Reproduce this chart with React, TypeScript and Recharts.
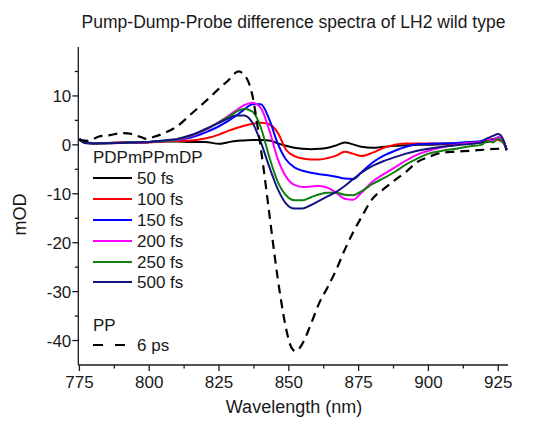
import React from "react";
import { LineChart, Line, XAxis, YAxis } from "recharts";

// wavelength grid (nm) for the pump-dump-probe spectra
const pdpWavelengths = [
  775, 777, 780, 785, 790, 795, 800, 805, 810, 815, 820, 825, 828, 831, 834, 837, 840, 843, 846, 849,
  852, 855, 858, 861, 864, 867, 870, 873, 876, 880, 884, 888, 892, 896, 900, 905, 910, 915, 919, 921,
  923, 925, 927, 928,
];

const fs50 = [
  1.2, 0.5, 0.4, 0.4, 0.5, 0.5, 0.6, 0.7, 0.7, 0.6, 0.6, 0.2, 0.5, 0.8, 0.9, 1.0, 1.0, 0.9, 0.3, -0.2,
  -0.6, -0.8, -0.9, -0.8, -0.6, -0.1, 0.5, 0.1, -0.4, -0.6, -0.4, -0.2, -0.1, 0.0, 0.0, 0.1, 0.2, 0.3, 0.5, 0.6,
  1.0, 1.5, 0.5, -1.0,
];
const fs100 = [
  1.0, 0.4, 0.3, 0.4, 0.5, 0.4, 0.5, 0.7, 0.8, 0.9, 1.3, 2.1, 2.8, 3.4, 3.9, 4.3, 4.5, 4.2, 2.5, -1.0,
  -2.3, -2.8, -3.0, -3.0, -2.7, -2.2, -1.4, -1.8, -2.3, -1.6, -0.6, 0.0, 0.3, 0.3, 0.3, 0.3, 0.3, 0.5, 0.6, 0.8,
  1.2, 1.0, 0.3, -1.0,
];
const fs150 = [
  1.3, 0.5, 0.3, 0.4, 0.4, 0.5, 0.6, 0.8, 1.0, 1.5, 2.5, 3.8, 4.8, 5.9, 7.2, 8.3, 8.3, 5.2, 0.3, -3.0,
  -4.6, -5.3, -5.7, -6.0, -6.2, -6.5, -6.9, -7.0, -5.6, -3.6, -2.2, -1.2, -0.4, 0.1, 0.2, 0.3, 0.4, 0.6, 0.8, 1.2,
  1.0, 1.5, 0.5, -1.0,
];
const fs200 = [
  1.2, 0.4, 0.3, 0.3, 0.4, 0.4, 0.6, 0.8, 1.0, 1.8, 3.0, 4.7, 5.8, 7.0, 8.1, 8.6, 7.5, 3.0, -2.8, -6.5,
  -8.2, -8.6, -8.5, -8.4, -8.8, -9.8, -11.0, -11.2, -9.8, -7.5, -6.0, -4.6, -3.2, -2.0, -1.2, -0.5, 0.0, 0.4, 0.6, 1.2,
  0.8, 1.5, 0.5, -1.0,
];
const fs250 = [
  1.0, 0.4, 0.3, 0.3, 0.4, 0.5, 0.6, 0.8, 1.1, 1.9, 3.1, 4.6, 5.6, 6.7, 7.4, 6.8, 3.5, -2.5, -7.5, -10.3,
  -11.3, -11.3, -10.7, -10.1, -9.8, -9.8, -10.2, -10.3, -9.5, -8.0, -6.8, -5.5, -4.0, -2.8, -1.8, -1.2, -0.8, -0.3, 0.0, 0.8,
  0.5, 1.2, 0.3, -1.0,
];
const fs500 = [
  1.2, 0.4, 0.3, 0.4, 0.4, 0.5, 0.6, 0.9, 1.2, 2.0, 3.2, 4.5, 5.3, 6.0, 6.0, 4.5, 0.5, -4.5, -9.0, -12.0,
  -13.0, -13.0, -12.3, -11.4, -10.5, -9.6, -8.4, -7.0, -5.7, -4.3, -3.3, -2.5, -1.8, -1.2, -0.8, -0.4, -0.1, 0.2, 0.5, 1.3,
  1.8, 2.2, 0.8, -1.0,
];

// pump-probe reference, 6 ps
const ppWavelengths = [
  775, 778, 782, 786, 790, 794, 797, 799, 802, 805, 810, 815, 820, 825, 828, 832, 835, 837, 839, 841,
  843, 845, 847, 849, 851, 852.5, 855, 858, 861, 864, 867, 870, 873, 876, 880, 884, 888, 892, 896, 900,
  905, 910, 915, 920, 925, 928,
];
const ps6 = [
  1.0, 0.8, 1.7, 2.0, 2.4, 2.2, 1.6, 1.2, 1.7, 2.3, 3.8, 6.3, 8.8, 11.5, 13.0, 15.0, 13.5, 10.0, 3.0, -5.0,
  -14.0, -23.0, -31.0, -37.5, -41.5, -42.2, -40.5, -36.5, -32.2, -29.0, -25.5, -21.5, -17.9, -14.8, -11.0, -9.0, -7.2, -5.5, -3.5, -2.5,
  -1.6, -1.4, -1.2, -1.0, -0.8, -1.0,
];

const pdpSeries = [
  { name: "50 fs", color: "#000000", values: fs50 },
  { name: "100 fs", color: "#ff0000", values: fs100 },
  { name: "150 fs", color: "#0000ff", values: fs150 },
  { name: "200 fs", color: "#ff00ff", values: fs200 },
  { name: "250 fs", color: "#118011", values: fs250 },
  { name: "500 fs", color: "#141480", values: fs500 },
];

const xTicks = [775, 787.5, 800, 812.5, 825, 837.5, 850, 862.5, 875, 887.5, 900, 912.5, 925];
const yTicks = [-40, -35, -30, -25, -20, -15, -10, -5, 0, 5, 10, 15];

const FONT = "'Liberation Sans', Arial, sans-serif";
const INK = "#1a1a1a";

const pdpData = pdpSeries.map((s) => pdpWavelengths.map((w, i) => ({ wl: w, v: s.values[i] })));
const ppData = ppWavelengths.map((w, i) => ({ wl: w, v: ps6[i] }));

function XTick(props: any) {
  const { x, y, payload } = props;
  const major = payload.value % 25 === 0;
  return (
    <g>
      <line x1={x} y1={y} x2={x} y2={y + (major ? 6 : 3.5)} stroke={INK} strokeWidth={1.3} />
      {major && (
        <text x={x} y={y + 23} textAnchor="middle" fontSize={17} fontFamily={FONT} fill={INK}>
          {payload.value}
        </text>
      )}
    </g>
  );
}

function YTick(props: any) {
  const { x, y, payload } = props;
  const major = payload.value % 10 === 0;
  return (
    <g>
      <line x1={x - (major ? 6 : 3.5)} y1={y} x2={x} y2={y} stroke={INK} strokeWidth={1.3} />
      {major && (
        <text x={x - 7} y={y + 6} textAnchor="end" fontSize={17} fontFamily={FONT} fill={INK}>
          {payload.value}
        </text>
      )}
    </g>
  );
}

function Overlay() {
  const rowY = [178, 199, 220, 241, 262, 282];
  return (
    <svg width={534} height={421} style={{ position: "absolute", left: 0, top: 0, pointerEvents: "none" }}>
      <text x={293.5} y={27.5} textAnchor="middle" fontSize={17.5} fontFamily={FONT} fill={INK}>
        Pump-Dump-Probe difference spectra of LH2 wild type
      </text>
      <text x={294} y={413} textAnchor="middle" fontSize={18} fontFamily={FONT} fill={INK}>
        Wavelength (nm)
      </text>
      <text
        x={25.5}
        y={214.5}
        textAnchor="middle"
        fontSize={18}
        fontFamily={FONT}
        fill={INK}
        transform="rotate(-90 25.5 214.5)"
      >
        mOD
      </text>
      <text x={93} y={163} fontSize={17} fontFamily={FONT} fill={INK}>
        PDPmPPmDP
      </text>
      {pdpSeries.map((s, i) => (
        <g key={s.name}>
          <line x1={93} y1={rowY[i]} x2={132} y2={rowY[i]} stroke={s.color} strokeWidth={2.2} />
          <text x={137} y={rowY[i] + 6} fontSize={17} fontFamily={FONT} fill={INK}>
            {s.name}
          </text>
        </g>
      ))}
      <text x={93} y={331} fontSize={17} fontFamily={FONT} fill={INK}>
        PP
      </text>
      <line x1={93} y1={345} x2={125} y2={345} stroke="#000" strokeWidth={2.2} strokeDasharray="10 12" />
      <text x={137} y={351} fontSize={17} fontFamily={FONT} fill={INK}>
        6 ps
      </text>
    </svg>
  );
}

export default function App() {
  return (
    <div style={{ position: "absolute", left: 0, top: 0, width: 534, height: 421, background: "#fff" }}>
      <LineChart width={534} height={421} margin={{ top: 47, right: 26, bottom: 0, left: 0 }}>
        <XAxis
          dataKey="wl"
          type="number"
          domain={[774.6, 928.5]}
          allowDataOverflow
          ticks={xTicks}
          interval={0}
          height={56}
          tickSize={0}
          tickMargin={0}
          tick={<XTick />}
          axisLine={{ stroke: INK, strokeWidth: 1.3 }}
        />
        <YAxis
          type="number"
          domain={[-45, 20]}
          allowDataOverflow
          ticks={yTicks}
          interval={0}
          width={78.3}
          tickSize={0}
          tickMargin={0}
          tick={<YTick />}
          axisLine={{ stroke: INK, strokeWidth: 1.3 }}
        />
        {pdpSeries.map((s, i) => (
          <Line
            key={s.name}
            data={pdpData[i]}
            dataKey="v"
            type="monotone"
            stroke={s.color}
            strokeWidth={2}
            dot={false}
            isAnimationActive={false}
          />
        ))}
        <Line
          data={ppData}
          dataKey="v"
          type="monotone"
          stroke="#000"
          strokeWidth={2.2}
          strokeDasharray="9 6"
          dot={false}
          isAnimationActive={false}
        />
      </LineChart>
      <Overlay />
    </div>
  );
}
